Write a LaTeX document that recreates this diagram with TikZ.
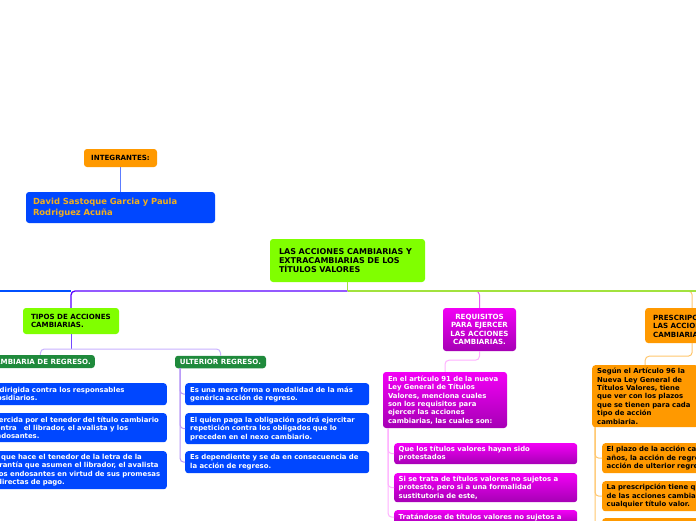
\documentclass[tikz,border=0pt]{standalone}
\usepackage{fontspec}
\setmainfont{DejaVu Sans}
\usepackage{xcolor}
\usepackage{tikz}

\definecolor{mapblue}{HTML}{0047FF}
\definecolor{maporange}{HTML}{FF9900}
\definecolor{maplime}{HTML}{80FF00}
\definecolor{mapdark}{HTML}{1F8A3C}
\definecolor{magtop}{HTML}{F200F5}
\definecolor{magbot}{HTML}{A600B5}
\definecolor{namegold}{HTML}{F2B01E}
\definecolor{linepurple}{HTML}{5A00FF}
\definecolor{lineblue}{HTML}{0050FF}
\definecolor{linelime}{HTML}{A2E23E}
\definecolor{linemag}{HTML}{E65CF5}
\definecolor{linepink}{HTML}{FFB0FF}
\definecolor{lineorange}{HTML}{FFC76E}
\definecolor{linelilac}{HTML}{C9B2FF}
\definecolor{linestem}{HTML}{7448FF}
\definecolor{lineint}{HTML}{5C7CFF}
\definecolor{lineult}{HTML}{B898F8}

\begin{document}
\begin{tikzpicture}[x=1pt, y=-1pt,
  every node/.style={font=\bfseries\fontsize{6.9}{8.4}\selectfont, rounded corners=3pt, inner ysep=0pt},
  caps/.style={font=\bfseries\fontsize{7.1}{8.6}\selectfont},
  bluebox/.style={fill=mapblue, text=white, align=left},
  orangebox/.style={fill=maporange, text=black, align=left},
  greenbox/.style={fill=maplime, text=black, align=left},
  darkbox/.style={caps, fill=mapdark, text=white},
  magbox/.style={top color=magtop, bottom color=magbot, text=white, align=left},
  link/.style={line width=1pt, rounded corners=4pt},
  trunk/.style={line width=1.3pt, rounded corners=4pt}]
\useasboundingbox (0,0) rectangle (696,520);
\clip (0,0) rectangle (696,520);
\fill[white] (0,0) rectangle (696,520);
% Members
\node[orangebox, caps, align=center, minimum width=73pt, minimum height=18pt] (integ) at (120.5,158) {INTEGRANTES:};
\node[bluebox, text=namegold, font=\bfseries\fontsize{8.4}{10.5}\selectfont, text width=175pt, inner xsep=7pt, minimum height=31pt] (names) at (120.5,207.5) {David Sastoque Garcia y Paula\\Rodriguez Acuña};
\draw[link, lineint] (integ) -- (names);
% Central topic
\node[greenbox, font=\bfseries\fontsize{8}{9.4}\selectfont, text width=137pt, inner xsep=9pt, minimum height=43pt] (root) at (347.5,260.5) {LAS ACCIONES CAMBIARIAS Y\\EXTRACAMBIARIAS DE LOS\\TÍTULOS VALORES};
% Main branches
\node[greenbox, caps, text width=80pt, inner xsep=8pt, minimum height=26pt] (tipos) at (71,321) {TIPOS DE ACCIONES\\CAMBIARIAS.};
\node[magbox, caps, align=center, minimum width=73pt, minimum height=43pt] (req) at (479.5,329.5) {REQUISITOS\\PARA EJERCER\\LAS ACCIONES\\CAMBIARIAS.};
\node[orangebox, caps, text width=78pt, inner xsep=8pt, minimum height=35pt, anchor=west] (presc) at (645,325.5) {PRESCRIPCIÓN DE\\LAS ACCIONES\\CAMBIARIAS.};
\coordinate (hub) at (347.5,291);
\coordinate (leftend) at (0,291);
\coordinate (rightend) at (696,291);
\draw[trunk, linepurple] (hub) -| (tipos.north);
\draw[trunk, lineblue] (leftend) -- (leftend -| tipos.north);
\draw[link, linemag] (hub) -| (req.north);
\draw[link, lineorange] (hub) -| (presc.north);
\draw[trunk, linelime] (hub) -- (rightend);
\draw[trunk, linelime] (root) -- (hub);
% Kinds of action
\node[darkbox, inner xsep=4pt, minimum height=13pt, anchor=east] (regreso) at (95,361.5) {CAMBIARIA DE REGRESO.};
\node[darkbox, minimum width=91pt, minimum height=12.5pt] (ulter) at (220.5,362) {ULTERIOR REGRESO.};
\coordinate (tfork) at (71,349);
\draw[link, linestem] (tipos) -- (tfork);
\draw[link, linelilac] (tfork) -| (regreso.north);
\draw[link, linelilac] (tfork) -| (ulter.north);
\node[bluebox, text width=174pt, inner xsep=5pt, minimum height=22pt, anchor=north east] (reg1) at (167,383) {Va dirigida contra los responsables\\subsidiarios.};
\node[bluebox, text width=170pt, inner xsep=5pt, minimum height=29pt, anchor=north east] (reg2) at (167,413) {Ejercida por el tenedor del título cambiario\\contra\ \ \ el librador, el avalista y los\\endosantes.};
\node[bluebox, text width=172pt, inner xsep=5pt, minimum height=38pt, anchor=north east] (reg3) at (167,451) {Lo que hace el tenedor de la letra de la\\garantía que asumen el librador, el avalista\\y los endosantes en virtud de sus promesas\\indirectas de pago.};
\node[bluebox, text width=174pt, inner xsep=5pt, minimum height=22pt, anchor=north west] (ult1) at (185,383) {Es una mera forma o modalidad de la más\\genérica acción de regreso.};
\node[bluebox, text width=174pt, inner xsep=5pt, minimum height=31pt, anchor=north west] (ult2) at (185,413) {El quien paga la obligación podrá ejercitar\\repetición contra los obligados que lo\\preceden en el nexo cambiario.};
\node[bluebox, text width=174pt, inner xsep=5pt, minimum height=22pt, anchor=north west] (ult3) at (185,451) {Es dependiente y se da en consecuencia de\\la acción de regreso.};
\coordinate (ustem) at (180,368);
\draw[link, lineult] (ustem) |- (ult1.west);
\draw[link, lineult] (ustem) |- (ult2.west);
\draw[link, lineult] (ustem) |- (ult3.west);
% Requirements
\node[magbox, text width=114pt, inner xsep=5pt, minimum height=56pt] (art) at (445,400) {En el artículo 91 de la nueva\\Ley General de Títulos\\Valores, menciona cuales\\son los requisitos para\\ejercer las acciones\\cambiarias, las cuales son:};
\draw[link, linepink] (req.south) -- ++(0,9) -| (art.north);
\node[magbox, text width=174pt, inner xsep=4.5pt, minimum height=21pt, anchor=north west] (req1) at (394,443) {Que los títulos valores hayan sido\\protestados};
\node[magbox, text width=174pt, inner xsep=4.5pt, minimum height=29pt, anchor=north west] (req2) at (394,473) {Si se trata de títulos valores no sujetos a\\protesto, pero si a una formalidad\\sustitutoria de este,};
\node[magbox, text width=174pt, inner xsep=4.5pt, inner ysep=3.5pt, anchor=north west] (req3) at (394,510) {Tratándose de títulos valores no sujetos a};
\coordinate (rstem) at (388,428);
\draw[link, linepink] (rstem) |- (req1.west);
\draw[link, linepink] (rstem) |- (req2.west);
\draw[link, linepink] (rstem) |- (req3.west);
% Prescription
\node[orangebox, text width=96pt, inner xsep=5pt, minimum height=62pt, anchor=north west] (segun) at (592,365) {Según el Artículo 96 la\\Nueva Ley General de\\Títulos Valores, tiene\\que ver con los plazos\\que se tienen para cada\\tipo de acción\\cambiaria.};
\draw[link, lineorange] (presc.south) -- ++(0,13) -| (segun.north);
\node[orangebox, text width=200pt, inner xsep=4.5pt, minimum height=30pt, anchor=north west] (pla1) at (602,443) {El plazo de la acción cambiaria\\años, la acción de regreso\\acción de ulterior regreso};
\node[orangebox, text width=200pt, inner xsep=4.5pt, minimum height=30pt, anchor=north west] (pla2) at (602,481) {La prescripción tiene que\\de las acciones cambiarias\\cualquier título valor.};
\node[orangebox, minimum width=120pt, minimum height=20pt, anchor=north west] (pla3) at (602,518) {};
\coordinate (pstem) at (595,427);
\draw[link, lineorange] (pstem) |- (pla1.west);
\draw[link, lineorange] (pstem) |- (pla2.west);
\draw[link, lineorange] (pstem) |- (pla3.west);
\end{tikzpicture}
\end{document}
